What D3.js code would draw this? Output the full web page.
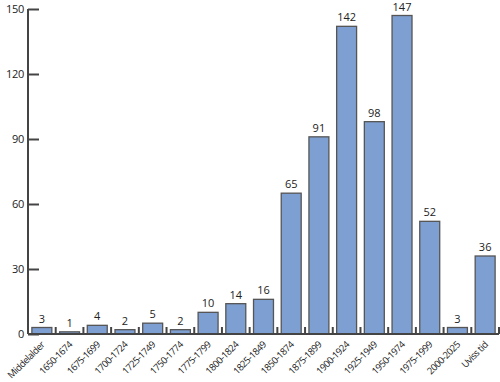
<!DOCTYPE html>
<html><head><meta charset="utf-8">
<script src="https://cdn.jsdelivr.net/npm/d3@7"></script>
<style>body{margin:0;background:#fff}svg{display:block}text{font-family:"Open Sans","DejaVu Sans",sans-serif}</style>
</head><body>
<svg id="c" width="500" height="382"></svg>
<script>
const categories = ["Middelalder","1650-1674","1675-1699","1700-1724","1725-1749","1750-1774","1775-1799","1800-1824","1825-1849","1850-1874","1875-1899","1900-1924","1925-1949","1950-1974","1975-1999","2000-2025","Uviss tid"];
const values = [3,1,4,2,5,2,10,14,16,65,91,142,98,147,52,3,36];
const yTicks = [0,30,60,90,120,150];

const svg = d3.select("#c");
const x0 = 28, x1 = 499, yTop = 9, yBot = 334;
const x = d3.scaleBand().domain(categories).range([x0, x1]).paddingInner(0.28).paddingOuter(0.14);
const y = d3.scaleLinear().domain([0,150]).range([yBot, yTop]);
const axisColor = "#444";

// bars
svg.selectAll("rect.bar").data(values).join("rect")
  .attr("class","bar")
  .attr("x",(d,i)=>x(categories[i]))
  .attr("width",x.bandwidth())
  .attr("y",d=>y(d))
  .attr("height",d=>y(0)-y(d))
  .attr("fill","#7e9fd2")
  .attr("stroke","#555")
  .attr("stroke-width",1.3);

// value labels
svg.selectAll("text.val").data(values).join("text")
  .attr("class","val")
  .attr("x",(d,i)=>x(categories[i])+x.bandwidth()/2)
  .attr("y",d=>y(d)-5)
  .attr("text-anchor","middle")
  .attr("font-size",11)
  .attr("fill","#222")
  .text(d=>d);

// y axis
const ya = svg.append("g").attr("transform",`translate(${x0},0)`)
  .call(d3.axisRight(y).tickValues(yTicks).tickSize(11).tickFormat(d3.format("d")));
ya.select(".domain").attr("stroke",axisColor).attr("stroke-width",2).attr("d",`M0,${yTop}V${yBot}`);
ya.selectAll(".tick line").attr("stroke",axisColor).attr("stroke-width",2);
ya.selectAll(".tick text").attr("x",-4).attr("text-anchor","end").attr("font-size",11).attr("fill","#222")
  .attr("letter-spacing","-0.3")
  .attr("font-family","'Open Sans',sans-serif");

// x axis
const boundaries = d3.range(1, categories.length+1).map(i=>x0 + i*(x1-x0)/categories.length);
const xa = svg.append("g");
xa.append("line").attr("x1",x0).attr("x2",x1).attr("y1",yBot).attr("y2",yBot)
  .attr("stroke",axisColor).attr("stroke-width",2);
xa.selectAll("line.tk").data(boundaries).join("line").attr("class","tk")
  .attr("x1",d=>d).attr("x2",d=>d).attr("y1",yBot).attr("y2",yBot-7)
  .attr("stroke",axisColor).attr("stroke-width",2);
xa.selectAll("text.lab").data(categories).join("text").attr("class","lab")
  .attr("transform",d=>`translate(${x(d)+x.bandwidth()/2+1},${yBot+9}) rotate(-45)`)
  .attr("text-anchor","end")
  .attr("dy","0.35em")
  .attr("font-size",9.5)
  .attr("letter-spacing","-0.5")
  .attr("fill","#222")
  .text(d=>d);
</script>
</body></html>
